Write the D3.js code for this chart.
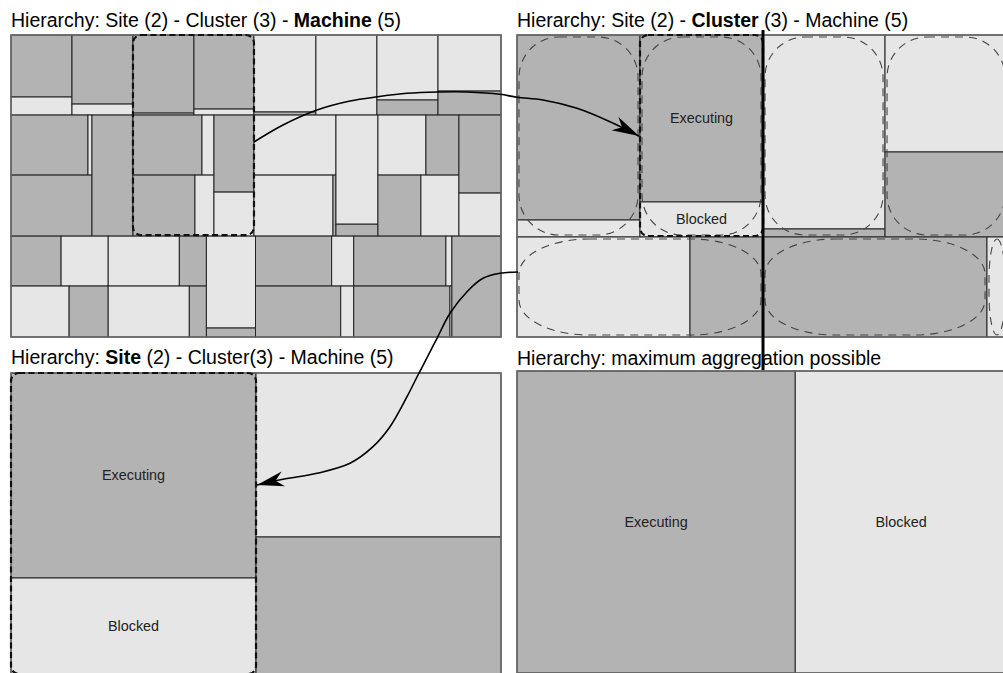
<!DOCTYPE html>
<html>
<head>
<meta charset="utf-8">
<script src="https://cdn.jsdelivr.net/npm/d3@7"></script>
<style>
  body { margin: 0; background: #fff; }
  svg { display: block; font-family: "Liberation Sans", Arial, Helvetica, sans-serif; }
</style>
</head>
<body>
<svg id="chart" width="1003" height="673"></svg>
<script>
// State names and colours
const stateNames = { E: "Executing", B: "Blocked" };
const stateColor = { E: "#b3b3b3", B: "#e6e6e6" };

// Machine level (top-left). Bands of columns, columns of machines,
// each machine lists its states in drawing order (time units).
const machinesBandTop = [
  [{ E: 378, B: 110 }],
  [{ E: 421, B: 67 }],
  [{ E: 476, B: 12 }],
  [{ E: 444, B: 36 }],
  [{ B: 477, E: 19 }],
  [{ B: 488 }],
  [{ B: 397, E: 92 }],
  [{ B: 353, E: 151 }]
];
const machinesBandMiddle = [
  [{ E: 462, B: 24 }, { E: 494 }],
  [{ E: 496 }],
  [{ E: 414, B: 72 }, { E: 378, B: 116 }],
  [{ E: 308, B: 176 }],
  [{ B: 492 }, { B: 482, E: 18 }],
  [{ B: 458, E: 50 }],
  [{ B: 288, E: 198 }, { E: 262, B: 232 }],
  [{ E: 328, B: 181 }]
];
const machinesBandBottom = [
  [{ E: 250, B: 235 }, { B: 296, E: 199 }],
  [{ B: 355, E: 135 }, { B: 413, E: 87 }],
  [{ B: 451, E: 44 }],
  [{ E: 380, B: 110 }, { E: 434, B: 66 }],
  [{ E: 460, B: 30 }, { E: 490, B: 10 }],
  [{ E: 495 }]
];

// Cluster level (top-right), two sites
const clustersSiteTop = [{ E: 2276, B: 209 }, { E: 2054, B: 431 }, { B: 2367, E: 98 }, { B: 1427, E: 1037 }];
const clustersSiteBottom = [{ B: 1730, E: 730 }, { E: 2240 }, { B: 200 }];

// Site level (bottom-left)
const sites = [{ E: 5023, B: 2377 }, { B: 4018, E: 3381 }];

// Maximum aggregation (bottom-right)
const totals = { E: 8404, B: 6395 };

const titles = [
  [["Hierarchy: Site (2) - Cluster (3) - ", false], ["Machine", true], [" (5)", false]],
  [["Hierarchy: Site (2) - ", false], ["Cluster", true], [" (3) - Machine (5)", false]],
  [["Hierarchy: ", false], ["Site", true], [" (2) - Cluster(3) - Machine (5)", false]],
  [["Hierarchy: maximum aggregation possible", false]]
];

// annotation arrows (page pixels)
const arrowToCluster = [[254,142],[283,125],[317,110],[350,101],[378,96.7],[407,93.3],[438,92],[467,92],
  [500,94.3],[517,97.3],[543,100],[577,108.3],[610,121.7],[639,136]];
const arrowToSite = [[518,272],[500,273.3],[483,278.3],[467,291.7],[450,313.3],[437,338.3],[425,361.7],
  [418,375],[407,396.7],[390,426.7],[373,446.7],[350,463.3],[317,473.3],[283,479.3],[257,485]];

// ---- build hierarchies
const machineNode = m => ({ kind: "group", children: Object.entries(m).map(([k, v]) => ({ state: k, value: v })) });
const bandNode = cols => ({ dir: "x", children: cols.map(c => ({ dir: "y", children: c.map(machineNode) })) });

function tile(node, x0, y0, x1, y1) {
  const dir = node.data.dir || ((x1 - x0) >= (y1 - y0) ? "x" : "y");
  (dir === "x" ? d3.treemapDice : d3.treemapSlice)(node, x0, y0, x1, y1);
}

function layout(data, w, h) {
  const root = d3.hierarchy(data).sum(d => d.value || 0);
  d3.treemap().size([w, h]).tile(tile)(root);
  return root;
}

const panels = [
  { x: 11, y: 35, w: 490, h: 302, ty: 27,
    data: { dir: "y", children: [bandNode(machinesBandTop), bandNode(machinesBandMiddle), bandNode(machinesBandBottom)] } },
  { x: 517, y: 35, w: 490, h: 302, ty: 27,
    data: { dir: "y", children: [
      { dir: "x", children: clustersSiteTop.map(machineNode) },
      { dir: "x", children: clustersSiteBottom.map(machineNode) }] } },
  { x: 11, y: 373, w: 490, h: 302, ty: 364,
    data: { dir: "x", children: sites.map(machineNode) } },
  { x: 517, y: 371, w: 490, h: 302, ty: 365,
    data: machineNode(totals) }
];

const svg = d3.select("#chart");
const defs = svg.append("defs");
defs.append("marker")
  .attr("id", "head")
  .attr("viewBox", "-28 -9 30 18")
  .attr("refX", 0).attr("refY", 0)
  .attr("markerWidth", 30).attr("markerHeight", 18)
  .attr("markerUnits", "userSpaceOnUse")
  .attr("orient", "auto")
  .append("path")
  .attr("d", "M0,0 L-27,-7.5 L-19,0 L-27,7.5 Z")
  .attr("fill", "#000");

panels.forEach((p, i) => {
  p.root = layout(p.data, p.w, p.h);
  const g = svg.append("g").attr("transform", `translate(${p.x},${p.y})`);
  p.g = g;

  g.selectAll("rect.cell")
    .data(p.root.leaves())
    .enter()
    .append("rect")
    .attr("class", "cell")
    .attr("x", d => d.x0).attr("y", d => d.y0)
    .attr("width", d => d.x1 - d.x0).attr("height", d => d.y1 - d.y0)
    .attr("fill", d => stateColor[d.data.state])
    .attr("stroke", "#222")
    .attr("stroke-width", 1);

  g.append("rect")
    .attr("width", p.w).attr("height", p.h)
    .attr("fill", "none")
    .attr("stroke", "#6a6a6a")
    .attr("stroke-width", 1.5);

  const t = svg.append("text")
    .attr("x", p.x).attr("y", p.ty)
    .attr("font-size", 19.5)
    .attr("fill", "#000");
  titles[i].forEach(([s, bold]) => {
    t.append("tspan").attr("font-weight", bold ? "bold" : "normal").text(s);
  });
});

// state labels
const [pA, pB, pC, pD] = panels;
const labelled = [
  [pB, pB.root.children[0].children[1].children],
  [pC, pC.root.children[0].children],
  [pD, pD.root.children]
];
labelled.forEach(([p, cells]) => {
  p.g.selectAll(null)
    .data(cells)
    .enter()
    .append("text")
    .attr("x", d => (d.x0 + d.x1) / 2)
    .attr("y", d => (d.y0 + d.y1) / 2)
    .attr("text-anchor", "middle")
    .attr("dominant-baseline", "central")
    .attr("font-size", 14.4)
    .attr("fill", "#222")
    .text(d => stateNames[d.data.state]);
});

// cluster blobs in panel B
const clusters = pB.root.descendants().filter(d => d.depth === 2);
pB.g.selectAll("rect.blob")
  .data(clusters)
  .enter()
  .append("rect")
  .attr("class", "blob")
  .attr("x", d => d.x0 + 2).attr("y", d => d.y0 + 2)
  .attr("width", d => d.x1 - d.x0 - 4).attr("height", d => d.y1 - d.y0 - 4)
  .attr("rx", d => Math.min((d.x1 - d.x0) > (d.y1 - d.y0) ? 70 : 40, (d.x1 - d.x0) / 2))
  .attr("ry", d => (d.x1 - d.x0) > (d.y1 - d.y0) ? 35 : 40)
  .attr("fill", "none")
  .attr("stroke", "#444")
  .attr("stroke-width", 1.1)
  .attr("stroke-dasharray", "8,6");

// bold dashed highlights
function bounds(nodes) {
  return { x0: d3.min(nodes, d => d.x0), y0: d3.min(nodes, d => d.y0), x1: d3.max(nodes, d => d.x1), y1: d3.max(nodes, d => d.y1) };
}
const highlights = [
  [pA, bounds([...pA.root.children[0].children.slice(2, 4), ...pA.root.children[1].children.slice(2, 4)])],
  [pB, pB.root.children[0].children[1]],
  [pC, pC.root.children[0]]
];
highlights.forEach(([p, b]) => {
  p.g.append("rect")
    .attr("x", b.x0).attr("y", b.y0)
    .attr("width", b.x1 - b.x0).attr("height", b.y1 - b.y0 - 1)
    .attr("rx", 8)
    .attr("fill", "none")
    .attr("stroke", "#111")
    .attr("stroke-width", 2.2)
    .attr("stroke-dasharray", "6,3.5");
});

// thick separator at the third cluster
const sepX = pB.x + pB.root.children[0].children[2].x0;
svg.append("line")
  .attr("x1", sepX).attr("x2", sepX)
  .attr("y1", 30).attr("y2", 370)
  .attr("stroke", "#000")
  .attr("stroke-width", 3);

// arrows
const curve = d3.line().curve(d3.curveCatmullRom.alpha(0.5));
[arrowToCluster, arrowToSite].forEach(pts => {
  svg.append("path")
    .attr("d", curve(pts))
    .attr("fill", "none")
    .attr("stroke", "#000")
    .attr("stroke-width", 1.6)
    .attr("marker-end", "url(#head)");
});
</script>
</body>
</html>
